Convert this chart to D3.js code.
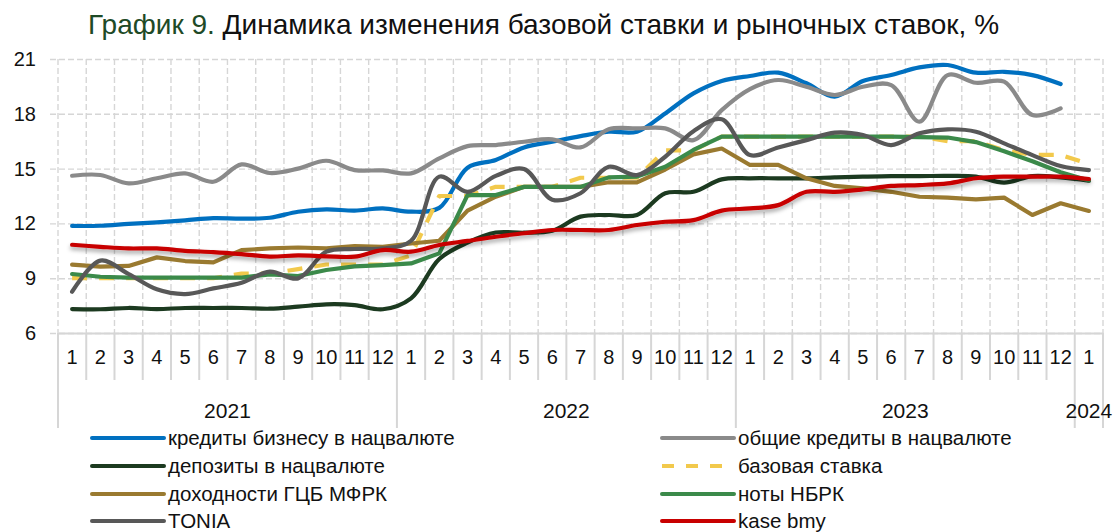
<!DOCTYPE html>
<html>
<head>
<meta charset="utf-8">
<script src="https://cdn.jsdelivr.net/npm/d3@7"></script>
<style>
body { margin: 0; background: #fff; }
text { font-family: "Liberation Sans", Arial, sans-serif; fill: #111; }
</style>
</head>
<body>
<div id="chart"></div>
<script>
(function(d3) {
'use strict';

// months Jan 2021 .. Jan 2024
var months = [1,2,3,4,5,6,7,8,9,10,11,12, 1,2,3,4,5,6,7,8,9,10,11,12, 1,2,3,4,5,6,7,8,9,10,11,12, 1];
var years = ['2021', '2022', '2023', '2024'];
var yTicks = [6, 9, 12, 15, 18, 21];

var bizLoans = [11.86, 11.87, 11.97, 12.06, 12.17, 12.29, 12.26, 12.31, 12.64, 12.77, 12.7, 12.82,
	12.64, 12.85, 15.05, 15.47, 16.16, 16.47, 16.78, 17.02, 17.02, 18.02, 19.12, 19.8,
	20.07, 20.25, 19.67, 18.94, 19.8, 20.12, 20.54, 20.67, 20.25, 20.3, 20.12, 19.63, null];
var allLoans = [14.61, 14.65, 14.19, 14.47, 14.74, 14.28, 15.23, 14.76, 15.0, 15.43, 14.92, 14.9,
	14.74, 15.56, 16.23, 16.29, 16.47, 16.6, 16.16, 17.15, 17.2, 17.2, 16.56, 18.2,
	19.35, 19.85, 19.48, 19.03, 19.48, 19.57, 17.57, 20.12, 19.7, 19.76, 17.93, 18.3, null];
var deposits = [7.31, 7.3, 7.37, 7.31, 7.37, 7.37, 7.37, 7.33, 7.44, 7.57, 7.53, 7.3,
	7.9, 10.05, 10.95, 11.5, 11.49, 11.6, 12.37, 12.46, 12.46, 13.65, 13.73, 14.41,
	14.47, 14.47, 14.47, 14.52, 14.56, 14.59, 14.59, 14.6, 14.56, 14.23, 14.59, 14.52, 14.34];
var baseRate = [9, 9, 9, 9, 9, 9, 9.25, 9.25, 9.5, 9.75, 9.75, 9.75,
	10.25, 13.5, 13.5, 14, 14, 14, 14.5, 14.5, 14.5, 16, 16, 16.75,
	16.75, 16.75, 16.75, 16.75, 16.75, 16.75, 16.75, 16.5, 16.5, 16, 15.75, 15.75, 15.25];
var govBonds = [9.74, 9.63, 9.67, 10.14, 9.94, 9.87, 10.54, 10.63, 10.68, 10.63, 10.76, 10.72,
	10.9, 11.05, 12.7, 13.46, 14.0, 14.0, 14.0, 14.25, 14.25, 14.95, 15.78, 16.1,
	15.2, 15.2, 14.47, 14.05, 13.92, 13.73, 13.46, 13.41, 13.32, 13.41, 12.46, 13.1, 12.68];
var nbrkNotes = [9.23, 9.08, 9.03, 9.03, 9.03, 9.03, 9.03, 9.21, 9.12, 9.45, 9.65, 9.72,
	9.81, 10.36, 13.55, 13.55, 14.0, 14.0, 14.0, 14.52, 14.56, 15.1, 16.02, 16.75,
	16.75, 16.75, 16.75, 16.75, 16.75, 16.75, 16.72, 16.7, 16.45, 15.95, 15.4, 14.8, 14.35];
var tonia = [8.26, 9.96, 9.23, 8.39, 8.13, 8.44, 8.75, 9.36, 8.99, 10.45, 10.6, 10.63,
	11.05, 14.56, 13.73, 14.6, 14.98, 13.3, 13.65, 15.1, 14.65, 15.65, 17.05, 17.7,
	15.74, 16.16, 16.56, 16.97, 16.84, 16.29, 16.93, 17.15, 17.02, 16.38, 15.74, 15.14, 14.92];
var kaseBmy = [10.83, 10.72, 10.63, 10.63, 10.5, 10.43, 10.32, 10.18, 10.25, 10.2, 10.18, 10.54,
	10.45, 10.82, 11.04, 11.27, 11.46, 11.64, 11.64, 11.64, 11.91, 12.09, 12.18, 12.7,
	12.82, 13.0, 13.73, 13.73, 13.86, 14.05, 14.1, 14.19, 14.47, 14.56, 14.56, 14.56, 14.43];

var series = [
	{ name: 'кредиты бизнесу в нацвалюте', values: bizLoans, color: '#0070c0', smooth: true },
	{ name: 'общие кредиты в нацвалюте', values: allLoans, color: '#8a8a8a', smooth: true },
	{ name: 'депозиты в нацвалюте', values: deposits, color: '#1c3a20', smooth: true },
	{ name: 'базовая ставка', values: baseRate, color: '#f2c94c', smooth: false, dash: '15,12' },
	{ name: 'доходности ГЦБ МФРК', values: govBonds, color: '#9a7a30', smooth: false },
	{ name: 'ноты НБРК', values: nbrkNotes, color: '#3b8a4a', smooth: false },
	{ name: 'TONIA', values: tonia, color: '#585858', smooth: true },
	{ name: 'kase bmy', values: kaseBmy, color: '#c80000', smooth: true, shadow: true }
];

var width = 1117;
var height = 532;
var plot = {left: 58, right: 1103, top: 59, bottom: 333};

var x = d3.scaleBand()
	.domain(d3.range(months.length))
	.range([plot.left, plot.right])
	.padding(0);

var y = d3.scaleLinear()
	.domain([6, 21])
	.range([plot.bottom, plot.top]);

var svg = d3.select('#chart')
	.append('svg')
	.attr('width', width)
	.attr('height', height);

var defs = svg.append('defs');
defs.append('filter')
	.attr('id', 'shadow')
	.attr('x', '-5%').attr('y', '-50%')
	.attr('width', '110%').attr('height', '200%')
	.append('feDropShadow')
	.attr('dx', 0).attr('dy', 3)
	.attr('stdDeviation', 2)
	.attr('flood-color', '#000')
	.attr('flood-opacity', 0.35);

// title
var title = svg.append('text')
	.attr('x', 88)
	.attr('y', 34)
	.style('font-size', '28px');
title.append('tspan').style('fill', '#1e4a26').text('График 9.');
title.append('tspan').text(' Динамика изменения базовой ставки и рыночных ставок, %');

// horizontal grid + y labels
var yAxis = d3.axisLeft(y)
	.tickValues(yTicks)
	.tickSize(-(plot.right - plot.left + 8))
	.tickPadding(14);

svg.append('g')
	.attr('class', 'y-axis')
	.attr('transform', 'translate(' + (plot.left - 8) + ',0)')
	.call(yAxis)
	.call(function(g) {
		g.select('.domain').remove();
		g.selectAll('line')
			.attr('stroke', '#d6d6d6')
			.attr('stroke-width', 1.4)
			.attr('stroke-dasharray', '6,3');
		g.selectAll('text')
			.style('font-size', '20px')
			.attr('fill', '#111');
	});

// vertical grid at category boundaries
var bounds = d3.range(months.length + 1);
var bx = function(i) { return i < months.length ? x(i) : x(i - 1) + x.bandwidth(); };

svg.append('g')
	.attr('class', 'x-grid')
	.selectAll('line')
	.data(bounds)
	.enter().append('line')
	.attr('x1', bx).attr('x2', bx)
	.attr('y1', plot.top).attr('y2', plot.bottom)
	.attr('stroke', '#d6d6d6')
	.attr('stroke-width', 1.4)
	.attr('stroke-dasharray', '6,3');

// x axis (months)
var xAxis = d3.axisBottom(x)
	.tickSize(0)
	.tickPadding(17)
	.tickFormat(function(i) { return months[i]; });

svg.append('g')
	.attr('class', 'x-axis')
	.attr('transform', 'translate(0,' + plot.bottom + ')')
	.call(xAxis)
	.call(function(g) {
		g.select('.domain')
			.attr('stroke', '#d6d6d6')
			.attr('stroke-width', 2);
		g.selectAll('text')
			.style('font-size', '20px')
			.attr('fill', '#111');
	});

var sep = svg.append('g').attr('class', 'x-sep');
sep.selectAll('line')
	.data(bounds)
	.enter().append('line')
	.attr('x1', bx).attr('x2', bx)
	.attr('y1', plot.bottom)
	.attr('y2', function(i) { return (i % 12 === 0 || i === months.length) ? 428 : 380; })
	.attr('stroke', '#d6d6d6')
	.attr('stroke-width', 2);

// year labels
svg.append('g')
	.attr('class', 'years')
	.selectAll('text')
	.data(years)
	.enter().append('text')
	.attr('x', function(d, k) {
		var first = k * 12;
		var last = Math.min(first + 11, months.length - 1);
		return (x(first) + x(last) + x.bandwidth()) / 2;
	})
	.attr('y', 418)
	.attr('text-anchor', 'middle')
	.style('font-size', '21px')
	.text(function(d) { return d; });

// lines
var lines = svg.append('g').attr('class', 'lines');

series.forEach(function(s) {
	var line = d3.line()
		.defined(function(v) { return v != null; })
		.x(function(v, i) { return x(i) + x.bandwidth() / 2; })
		.y(function(v) { return y(v); })
		.curve(s.smooth ? d3.curveCatmullRom.alpha(0.5) : d3.curveLinear);

	lines.append('path')
		.datum(s.values)
		.attr('d', line)
		.attr('fill', 'none')
		.attr('stroke', s.color)
		.attr('stroke-width', 4.2)
		.attr('stroke-linecap', s.dash ? 'butt' : 'round')
		.attr('stroke-linejoin', 'round')
		.attr('stroke-dasharray', s.dash || null)
		.attr('filter', s.shadow ? 'url(#shadow)' : null);
});

// legend, two columns
var legend = svg.append('g').attr('class', 'legend');
var colX = [92, 662];
var rowY = [438, 466, 494, 521];

var item = legend.selectAll('g')
	.data(series)
	.enter().append('g')
	.attr('transform', function(d, i) {
		return 'translate(' + colX[i % 2] + ',' + rowY[Math.floor(i / 2)] + ')';
	});

item.append('line')
	.attr('x1', 0).attr('x2', 72)
	.attr('y1', 0).attr('y2', 0)
	.attr('stroke', function(d) { return d.color; })
	.attr('stroke-width', 4)
	.attr('stroke-linecap', function(d) { return d.dash ? 'butt' : 'round'; })
	.attr('stroke-dasharray', function(d) { return d.dash ? '12,12' : null; });

item.append('text')
	.attr('x', 76)
	.attr('y', 0)
	.attr('dy', '0.35em')
	.style('font-size', '20.5px')
	.text(function(d) { return d.name; });

})(window.d3);
</script>
</body>
</html>
